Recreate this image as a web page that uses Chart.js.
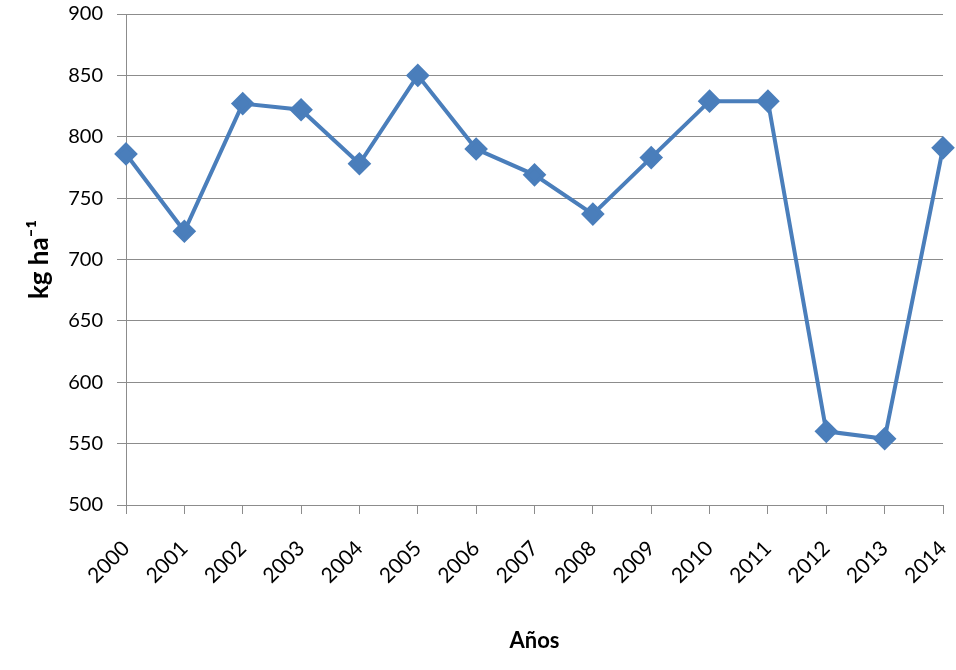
<!DOCTYPE html>
<html>
<head>
<meta charset="utf-8">
<script src="https://cdn.jsdelivr.net/npm/chart.js@4/dist/chart.umd.min.js"></script>
<style>
  html, body { margin: 0; padding: 0; background: #ffffff; }
  canvas { display: block; }
</style>
</head>
<body>
<canvas id="c" width="956" height="670"></canvas>
<script>
// Yield per year (kg ha-1)
const years = ['2000','2001','2002','2003','2004','2005','2006','2007','2008','2009','2010','2011','2012','2013','2014'];
const yieldKgHa = [786, 723, 827, 822, 778, 850, 790, 769, 737, 783, 829, 829, 560, 554, 791];
const yTicks = [500, 550, 600, 650, 700, 750, 800, 850, 900];

const fontFamily = 'Lato, "Open Sans", sans-serif';
const gridColor = '#8c8c8c';

new Chart(document.getElementById('c'), {
  type: 'line',
  data: {
    labels: years,
    datasets: [{
      data: yieldKgHa,
      borderColor: '#4a7ebb',
      backgroundColor: '#4a7ebb',
      borderWidth: 4,
      pointStyle: 'rectRot',
      pointRadius: 9,
      pointHoverRadius: 9,
      pointBackgroundColor: '#4a7ebb',
      pointBorderColor: '#4a7ebb',
      tension: 0
    }]
  },
  options: {
    responsive: false,
    animation: false,
    devicePixelRatio: 1,
    layout: { padding: { left: 0, right: 13, top: 14, bottom: 0 } },
    plugins: { legend: { display: false }, tooltip: { enabled: false } },
    scales: {
      x: {
        offset: false,
        grid: { drawOnChartArea: false, drawTicks: true, tickLength: 9, color: gridColor, lineWidth: 1 },
        border: { color: gridColor, width: 1 },
        ticks: { font: { family: fontFamily, size: 21 }, color: '#000', maxRotation: 45, minRotation: 45, autoSkip: false, padding: 22 },
        title: { display: true, text: 'Años', color: '#000', font: { family: fontFamily, size: 22, weight: 'bold' }, padding: { top: 0, bottom: 16 } },
        afterFit: (s) => { s.height = 165; s.paddingLeft = 0; s.paddingRight = 0; }
      },
      y: {
        min: 500, max: 900,
        afterBuildTicks: (s) => { s.ticks = yTicks.map(v => ({ value: v })); },
        grid: { color: gridColor, lineWidth: 1, tickLength: 9 },
        border: { color: gridColor, width: 1 },
        ticks: { font: { family: fontFamily, size: 20 }, color: '#000', padding: 14 },
        title: { display: true, text: 'kg ha⁻¹', color: '#000', font: { family: fontFamily, size: 26, weight: 'bold' }, padding: { top: 24, bottom: 0 } },
        afterFit: (s) => { s.width = 126; s.paddingTop = 0; s.paddingBottom = 0; }
      }
    }
  }
});
</script>
</body>
</html>
